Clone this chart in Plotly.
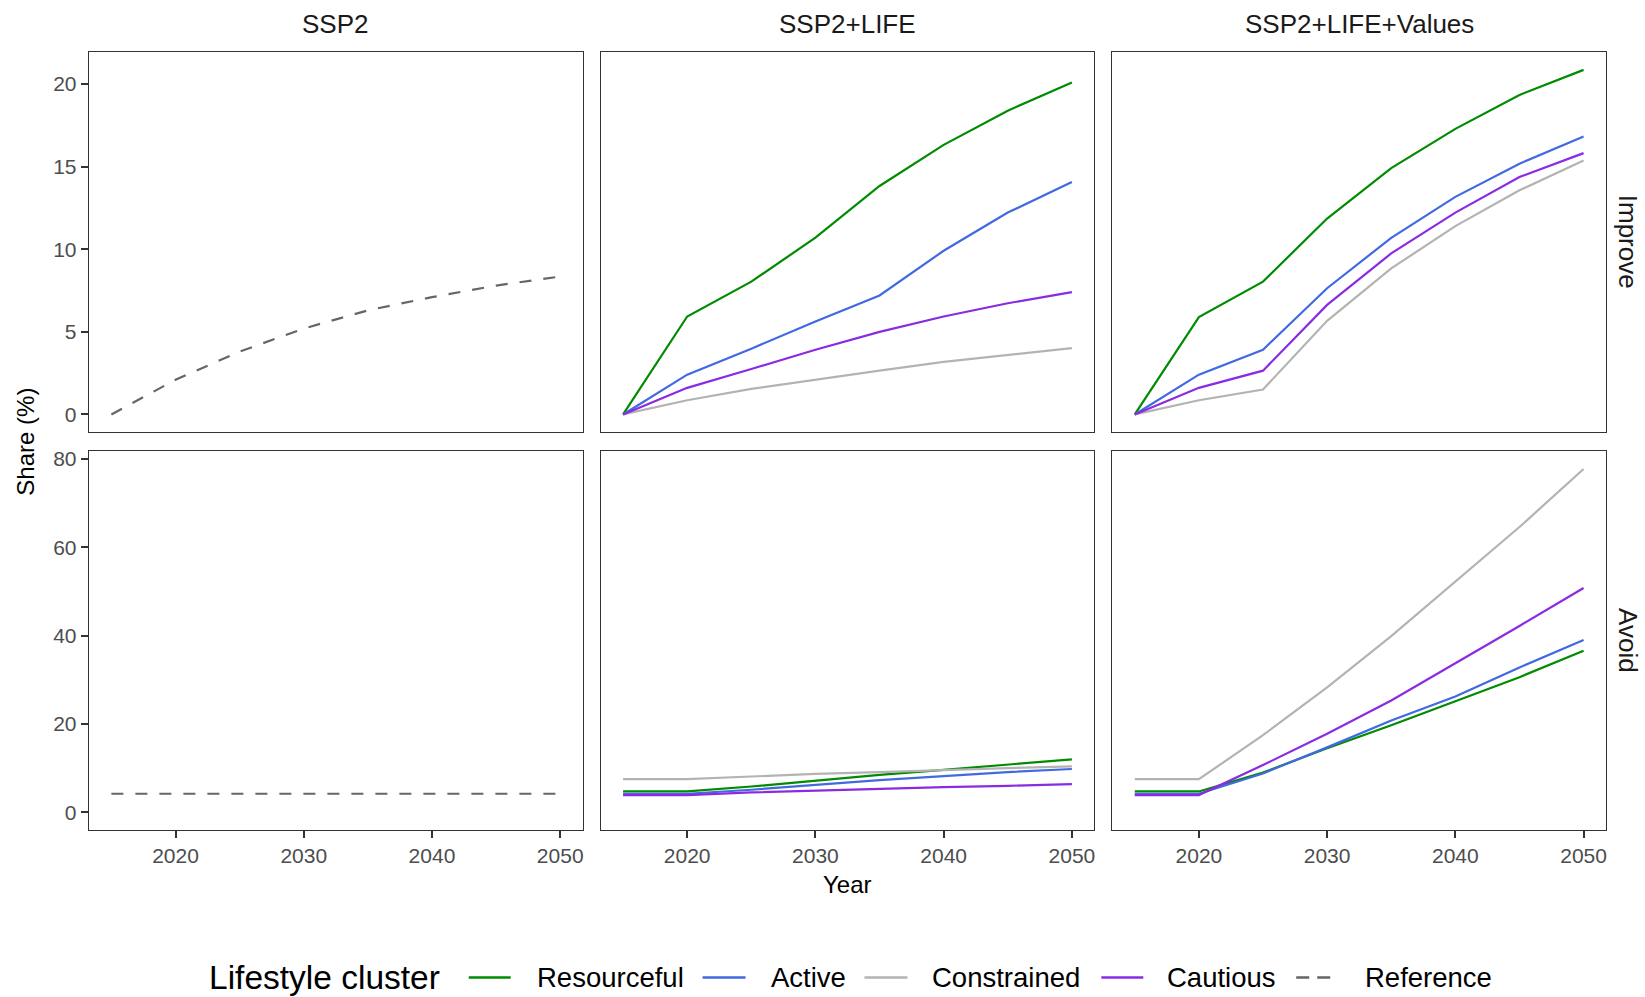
import plotly.graph_objects as go
from plotly.subplots import make_subplots

years = [2015, 2020, 2025, 2030, 2035, 2040, 2045, 2050]
scenarios = ["SSP2", "SSP2+LIFE", "SSP2+LIFE+Values"]
row_labels = ["Improve", "Avoid"]
clusters = ["Resourceful", "Active", "Constrained", "Cautious"]
legend_title = "Lifestyle cluster"
legend_labels = ["Resourceful", "Active", "Constrained", "Cautious", "Reference"]

# SSP2 reference
ref_improve = [0.0, 2.1, 3.8, 5.2, 6.3, 7.1, 7.8, 8.35]
ref_avoid = [4.2, 4.2, 4.2, 4.2, 4.2, 4.2, 4.2, 4.2]

# SSP2+LIFE, Improve
life_improve_resourceful = [0.0, 5.93, 8.04, 10.7, 13.83, 16.32, 18.39, 20.1]
life_improve_active = [0.0, 2.41, 3.98, 5.63, 7.2, 9.91, 12.22, 14.07]
life_improve_constrained = [0.0, 0.86, 1.55, 2.11, 2.65, 3.18, 3.62, 4.02]
life_improve_cautious = [0.0, 1.61, 2.75, 3.92, 5.0, 5.93, 6.73, 7.4]

# SSP2+LIFE+Values, Improve
values_improve_resourceful = [0.0, 5.89, 8.04, 11.86, 14.91, 17.29, 19.34, 20.86]
values_improve_active = [0.0, 2.41, 3.92, 7.64, 10.69, 13.17, 15.18, 16.82]
values_improve_constrained = [0.0, 0.86, 1.51, 5.67, 8.84, 11.4, 13.57, 15.38]
values_improve_cautious = [0.0, 1.61, 2.65, 6.63, 9.75, 12.22, 14.37, 15.82]

# SSP2+LIFE, Avoid
life_avoid_resourceful = [4.72, 4.72, 5.84, 7.2, 8.46, 9.6, 10.86, 12.0]
life_avoid_active = [4.2, 4.2, 5.1, 6.2, 7.3, 8.2, 9.1, 9.8]
life_avoid_constrained = [7.49, 7.49, 8.1, 8.7, 9.1, 9.6, 10.0, 10.4]
life_avoid_cautious = [3.9, 3.9, 4.5, 4.9, 5.4, 5.7, 6.0, 6.4]

# SSP2+LIFE+Values, Avoid
values_avoid_resourceful = [4.72, 4.72, 9.0, 14.5, 19.7, 25.2, 30.6, 36.6]
values_avoid_active = [4.2, 4.2, 8.8, 14.7, 20.8, 26.2, 32.8, 39.0]
values_avoid_constrained = [7.49, 7.49, 17.45, 28.3, 39.9, 52.3, 64.6, 77.75]
values_avoid_cautious = [3.9, 3.9, 10.7, 17.8, 25.3, 33.7, 42.2, 50.8]

colors = {
    "Resourceful": "#008B00",
    "Active": "#4169E1",
    "Constrained": "#B3B3B3",
    "Cautious": "#8A2BE2",
    "Reference": "#666666",
}

data = {
    (1, 2): [life_improve_resourceful, life_improve_active, life_improve_constrained, life_improve_cautious],
    (1, 3): [values_improve_resourceful, values_improve_active, values_improve_constrained, values_improve_cautious],
    (2, 2): [life_avoid_resourceful, life_avoid_active, life_avoid_constrained, life_avoid_cautious],
    (2, 3): [values_avoid_resourceful, values_avoid_active, values_avoid_constrained, values_avoid_cautious],
}

FONT = "Liberation Sans, Arial, sans-serif"
W, H = 1645, 997
xdom = [(89, 583), (601, 1095), (1113, 1607)]
ydom = [(49, 430), (449, 829)]

fig = make_subplots(rows=2, cols=3, horizontal_spacing=0.01, vertical_spacing=0.02)

for (r, c), series in data.items():
    for name, vals in zip(clusters, series):
        fig.add_trace(go.Scatter(
            x=years, y=vals, mode="lines", name=name,
            line=dict(color=colors[name], width=2.2), showlegend=False,
        ), row=r, col=c)

for r, vals in ((1, ref_improve), (2, ref_avoid)):
    fig.add_trace(go.Scatter(x=years, y=vals, mode="lines", name="Reference",
                             line=dict(color=colors["Reference"], width=2.2, dash="12px,12px"),
                             showlegend=False), row=r, col=1)

axis_common = dict(showgrid=False, zeroline=False, showline=True, mirror=True,
                   linecolor="#333333", linewidth=1.4,
                   tickfont=dict(family=FONT, size=21, color="#4D4D4D"),
                   ticks="outside", tickcolor="#333333", ticklen=7, tickwidth=1.5)

for r in (1, 2):
    for c in (1, 2, 3):
        idx = (r - 1) * 3 + c
        xa = "xaxis" if idx == 1 else f"xaxis{idx}"
        ya = "yaxis" if idx == 1 else f"yaxis{idx}"
        x0, x1 = xdom[c - 1]
        y0, y1 = ydom[r - 1]
        xopts = dict(axis_common, domain=[x0 / W, x1 / W], range=[2013.25, 2051.75],
                     tickvals=[2020, 2030, 2040, 2050])
        if r == 1:
            xopts.update(showticklabels=False, ticks="")
        yopts = dict(axis_common, domain=[1 - y1 / H, 1 - y0 / H])
        if r == 1:
            yopts.update(range=[-1.045, 21.95], tickvals=[0, 5, 10, 15, 20])
        else:
            yopts.update(range=[-3.9, 81.9], tickvals=[0, 20, 40, 60, 80])
        if c != 1:
            yopts.update(showticklabels=False, ticks="")
        fig.layout[xa].update(xopts)
        fig.layout[ya].update(yopts)

annotations = []
shapes = []
font_strip = dict(family=FONT, size=26, color="#1A1A1A")
for c, name in enumerate(scenarios):
    x0, x1 = xdom[c]
    annotations.append(dict(text=name, x=(x0 + x1) / 2 / W, y=1 - 21 / H, xref="paper", yref="paper",
                            showarrow=False, font=font_strip, xanchor="center", yanchor="middle"))
for r, name in enumerate(row_labels):
    y0, y1 = ydom[r]
    annotations.append(dict(text=name, x=1629 / W, y=1 - (y0 + y1) / 2 / H, xref="paper", yref="paper",
                            showarrow=False, font=font_strip, textangle=90,
                            xanchor="center", yanchor="middle"))
annotations.append(dict(text="Year", x=848 / W, y=1 - 884 / H, xref="paper", yref="paper",
                        showarrow=False, font=dict(family=FONT, size=24, color="#000000"),
                        xanchor="center", yanchor="middle"))
annotations.append(dict(text="Share (%)", x=26 / W, y=1 - 440 / H, xref="paper", yref="paper",
                        showarrow=False, font=dict(family=FONT, size=24, color="#000000"),
                        textangle=-90, xanchor="center", yanchor="middle"))

# legend (drawn manually to match ggplot spacing)
leg_y = 977.5
annotations.append(dict(text=legend_title, x=207 / W, y=1 - leg_y / H, xref="paper", yref="paper",
                        showarrow=False, font=dict(family=FONT, size=33.5, color="#000000"),
                        xanchor="left", yanchor="middle"))
key_x = [(469, 511), (703, 746), (865, 908), (1102, 1144), (1297, 1332)]
text_x = [535, 769, 931, 1166, 1364]
for name, (kx0, kx1), tx in zip(legend_labels, key_x, text_x):
    dash = "13px,8px" if name == "Reference" else "solid"
    shapes.append(dict(type="line", xref="paper", yref="paper",
                       x0=kx0 / W, x1=kx1 / W, y0=1 - leg_y / H, y1=1 - leg_y / H,
                       line=dict(color=colors[name], width=2.5, dash=dash)))
    annotations.append(dict(text=name, x=tx / W, y=1 - leg_y / H, xref="paper", yref="paper",
                            showarrow=False, font=dict(family=FONT, size=27.5, color="#000000"),
                            xanchor="left", yanchor="middle"))

fig.update_layout(
    width=W, height=H,
    margin=dict(l=0, r=0, t=0, b=0),
    paper_bgcolor="white", plot_bgcolor="white",
    annotations=annotations, shapes=shapes,
    showlegend=False,
)

fig.write_html("out.html", config={"displayModeBar": False},
               post_script="document.body.style.margin='0px';")
